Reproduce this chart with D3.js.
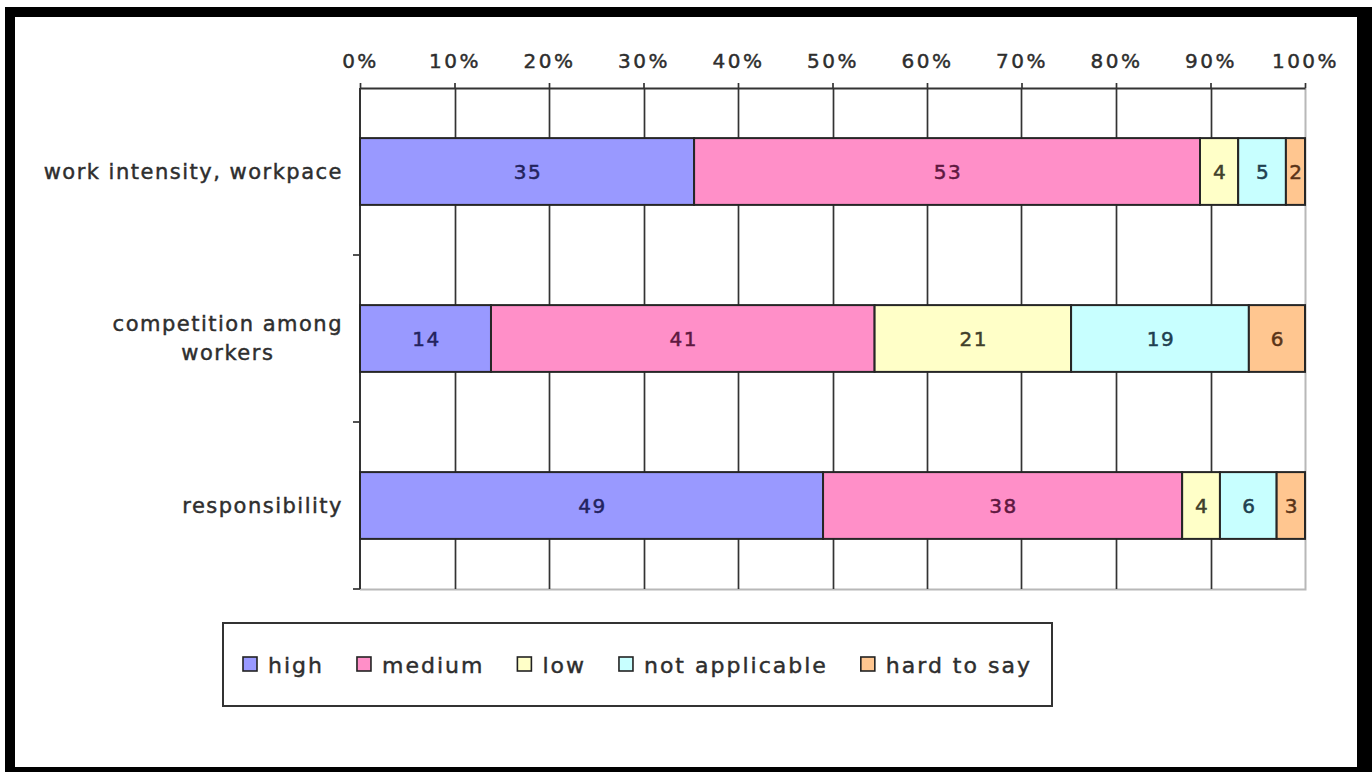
<!DOCTYPE html>
<html>
<head>
<meta charset="utf-8">
<script src="https://cdn.jsdelivr.net/npm/d3@7"></script>
<style>
  html, body { margin: 0; padding: 0; background: #fff; }
  svg { display: block; }
  text { font-family: "DejaVu Sans", Verdana, sans-serif; }
</style>
</head>
<body>
<svg id="chart" width="1372" height="772"></svg>
<script>
// Survey categories (top to bottom) and answer shares per category
const categories = ["work intensity, workpace", "competition among workers", "responsibility"];
const categoryLines = [["work intensity, workpace"], ["competition among", "workers"], ["responsibility"]];
const seriesNames = ["high", "medium", "low", "not applicable", "hard to say"];
const high = [35, 14, 49];
const medium = [53, 41, 38];
const low = [4, 21, 4];
const notApplicable = [5, 19, 6];
const hardToSay = [2, 6, 3];
const tickValues = [0, 0.1, 0.2, 0.3, 0.4, 0.5, 0.6, 0.7, 0.8, 0.9, 1.0];

const fills = ["#9999ff", "#ff8fc8", "#ffffc8", "#c8ffff", "#ffc690"];
const labelColors = ["#23235e", "#5e1840", "#40402a", "#1f4050", "#5a3418"];
const textColor = "#2e2e2e";

const seriesValues = [high, medium, low, notApplicable, hardToSay];
const rows = categories.map((c, i) => {
  const r = { category: c };
  seriesNames.forEach((s, k) => { r[s] = seriesValues[k][i]; });
  return r;
});

const svg = d3.select("#chart");

// Outer frame
svg.append("rect").attr("x", 5).attr("y", 7).attr("width", 1367).attr("height", 765).attr("fill", "#000");
svg.append("rect").attr("x", 15).attr("y", 17).attr("width", 1342).attr("height", 750).attr("fill", "#fff");

const plot = { left: 360, right: 1305, top: 88, bottom: 589 };

const x = d3.scaleLinear().domain([0, 1]).range([plot.left, plot.right]);
const y = d3.scaleBand().domain(categories).range([plot.top, plot.bottom]).paddingInner(0).paddingOuter(0);
const barFrac = 0.4;

const stack = d3.stack().keys(seriesNames).offset(d3.stackOffsetExpand);
const stacked = stack(rows);

// Slightly heavier text strokes
function heavy(sel, color) {
  return sel.attr("fill", color).attr("stroke", color).attr("stroke-width", 0.45);
}

// Plot area border (right/bottom light grey)
svg.append("path")
  .attr("d", `M${plot.right + 0.5},${plot.top} V${plot.bottom + 0.5} H${plot.left}`)
  .attr("fill", "none").attr("stroke", "#b8b8b8").attr("stroke-width", 2);

// Vertical gridlines
svg.append("g").selectAll("line")
  .data(tickValues.slice(1, -1))
  .join("line")
  .attr("x1", d => Math.round(x(d)) + 0.5).attr("x2", d => Math.round(x(d)) + 0.5)
  .attr("y1", plot.top).attr("y2", plot.bottom)
  .attr("stroke", "#333").attr("stroke-width", 1.7);

// Top axis
const xAxis = d3.axisTop(x).tickValues(tickValues).tickFormat(d3.format(".0%")).tickSize(5).tickSizeOuter(0).tickPadding(15);
const gx = svg.append("g").attr("transform", `translate(0,${plot.top})`).call(xAxis);
gx.select(".domain").attr("stroke", "#333").attr("stroke-width", 2);
gx.selectAll(".tick line").attr("stroke", "#333").attr("stroke-width", 1.7);
heavy(gx.selectAll(".tick text"), textColor)
  .attr("font-size", 20).attr("letter-spacing", "2.5px")
  .style("font-family", "'DejaVu Sans', Verdana, sans-serif");

// Left axis with ticks at category boundaries
const boundaries = categories.map(c => y(c)).concat([plot.bottom]);
svg.append("line")
  .attr("x1", plot.left).attr("x2", plot.left).attr("y1", plot.top).attr("y2", plot.bottom)
  .attr("stroke", "#333").attr("stroke-width", 2);
svg.append("g").selectAll("line")
  .data(boundaries.slice(1))
  .join("line")
  .attr("x1", plot.left - 7).attr("x2", plot.left)
  .attr("y1", d => d).attr("y2", d => d)
  .attr("stroke", "#333").attr("stroke-width", 1.7);

// Category labels: block right-aligned next to the axis, lines centred within it
const catG = svg.append("g");
categories.forEach((c, i) => {
  const lines = categoryLines[i];
  const cy = y(c) + y.bandwidth() / 2;
  const lh = 29;
  const spans = lines.map((ln, j) => {
    const t = heavy(catG.append("text"), textColor)
      .attr("font-size", 21).attr("letter-spacing", "1.5px")
      .attr("text-anchor", "middle")
      .attr("y", cy + (j - (lines.length - 1) / 2) * lh + 7)
      .text(ln);
    return t;
  });
  const w = d3.max(spans, t => t.node().getComputedTextLength());
  const cx = 343 - w / 2;
  spans.forEach(t => t.attr("x", cx));
});

// Stacked bars
const bh = y.bandwidth() * barFrac;
const layers = svg.append("g").selectAll("g")
  .data(stacked)
  .join("g");

layers.selectAll("rect")
  .data((layer, k) => layer.map(d => ({ d, k })))
  .join("rect")
  .attr("x", o => x(o.d[0]))
  .attr("width", o => x(o.d[1]) - x(o.d[0]))
  .attr("y", o => y(o.d.data.category) + (y.bandwidth() - bh) / 2)
  .attr("height", bh)
  .attr("fill", o => fills[o.k])
  .attr("stroke", "#262626").attr("stroke-width", 2);

layers.selectAll("text")
  .data((layer, k) => layer.map(d => ({ d, k, key: layer.key })))
  .join("text")
  .attr("x", o => (x(o.d[0]) + x(o.d[1])) / 2 + 1)
  .attr("y", o => y(o.d.data.category) + y.bandwidth() / 2 + 7)
  .attr("text-anchor", "middle")
  .attr("font-size", 20).attr("letter-spacing", "1.5px")
  .attr("fill", o => labelColors[o.k])
  .attr("stroke", o => labelColors[o.k]).attr("stroke-width", 0.5)
  .text(o => o.d.data[o.key]);

// Legend
const legend = svg.append("g");
legend.append("rect")
  .attr("x", 223).attr("y", 623).attr("width", 829).attr("height", 83)
  .attr("fill", "#fff").attr("stroke", "#333").attr("stroke-width", 2);

let lx = 243;
seriesNames.forEach((s, k) => {
  legend.append("rect")
    .attr("x", lx).attr("y", 657).attr("width", 14).attr("height", 14)
    .attr("fill", fills[k]).attr("stroke", "#222").attr("stroke-width", 1.6);
  const t = heavy(legend.append("text"), textColor)
    .attr("x", lx + 25).attr("y", 673)
    .attr("font-size", 22).attr("letter-spacing", "2px")
    .text(s);
  lx += 25 + t.node().getComputedTextLength() + 33;
});
</script>
</body>
</html>
